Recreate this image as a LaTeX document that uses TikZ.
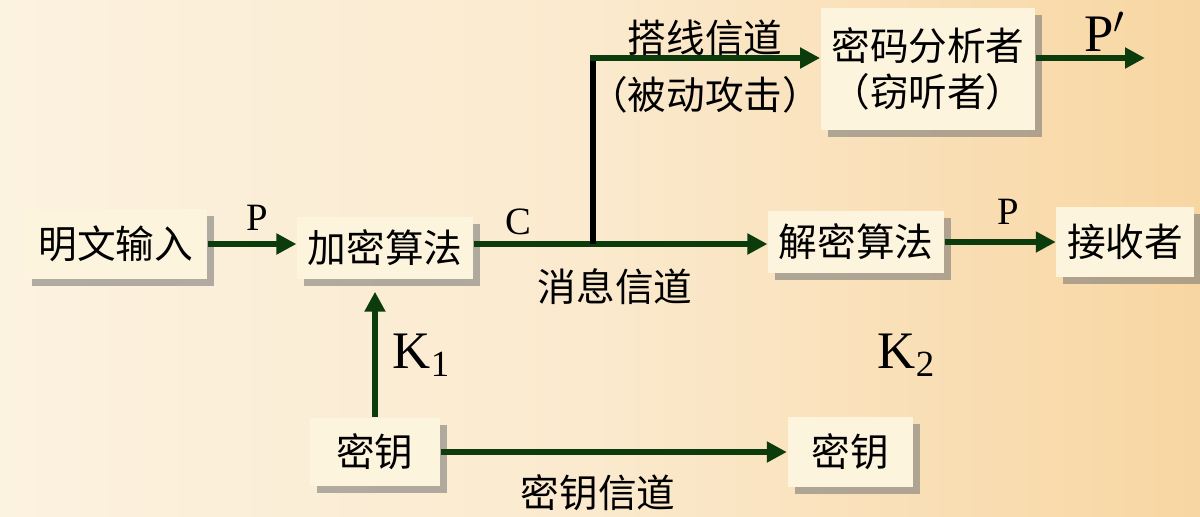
\documentclass[tikz,border=0pt]{standalone}
\usepackage{fontspec}
\setmainfont{Liberation Serif}
\newfontfamily\cjk{Noto Sans CJK SC}
\usetikzlibrary{positioning, arrows.meta, shadows, calc}

\definecolor{bgleft}{RGB}{252,242,224}
\definecolor{bgright}{RGB}{248,214,162}
\definecolor{boxfill}{RGB}{253,244,222}
\definecolor{arrgreen}{RGB}{12,60,12}

\begin{document}
\begin{tikzpicture}[
  every node/.style={font=\cjk\fontsize{11}{13}\selectfont},
  >=Triangle,
  pbox/.style={fill=boxfill, align=center,
    inner xsep=3pt, inner ysep=2pt,
    drop shadow={shadow xshift=0.07cm, shadow yshift=-0.07cm,
      fill=black!55, opacity=0.55}},
  lbl/.style={font=\rmfamily\fontsize{11}{13}\selectfont},
  klbl/.style={font=\rmfamily\fontsize{15}{17}\selectfont},
  arr/.style ={-{Triangle[length=0.2cm, width=0.2cm]}, line width=1.8pt, draw=arrgreen, fill=arrgreen},
  ln/.style  ={line width=1.8pt, draw=arrgreen},
]

%% background
\shade[left color=bgleft, right color=bgright, middle color=bgleft!70!bgright]
  (0,0) rectangle (12,-5.16);
\useasboundingbox (0,0) rectangle (12,-5.16);

%% ROW 1 — message channel
\node[pbox, minimum width=1.82cm, minimum height=0.70cm] (plain) at (1.16,-2.44) {明文输入};
\node[pbox, minimum width=1.54cm, minimum height=0.62cm] (enc)   at (3.85,-2.48) {加密算法};
\node[pbox, minimum width=1.72cm, minimum height=0.62cm] (dec)   at (8.56,-2.42) {解密算法};
\node[pbox, minimum width=1.30cm, minimum height=0.70cm] (rcv)   at (11.25,-2.42) {接收者};

\draw[arr] (plain.east) -- (plain.east -| enc.west);
\node[lbl] (pIn) at (2.57,-2.18) {P};
\coordinate (tap) at (5.93,0 |- plain.east);
\draw[ln] (enc.east |- plain.east) -- (tap);
\draw[arr] (tap) -- (tap -| dec.west);
\node[lbl] (cLbl) at (5.18,-2.22) {C};
\node (msgCh) at (6.15,-2.87) {消息信道};
\draw[arr] (dec.east) -- (rcv.west);
\node[lbl] (pOut) at (10.08,-2.12) {P};

%% ROW 0 — wiretap branch
\node[pbox, minimum width=2.05cm, minimum height=1.22cm] (crypt) at (9.28,-0.69)
  {密码分析者\\（窃听者）};
\coordinate (tapTop) at (5.93,-0.58);
\draw[line width=1.6pt, black] (tap) -- (tapTop);
\draw[arr] ($(tapTop)+(-0.03,0)$) -- (tapTop -| crypt.west);
\node (wire) at (7.05,-0.38) {搭线信道};
\node (passive) at (7.05,-0.95) {（被动攻击）};
\coordinate (eaveOut) at (11.45,-0.58);
\draw[arr] (tapTop -| crypt.east) -- (eaveOut);
\node[klbl] (pPrime) at (11.05,-0.32) {P$'$};

%% ROW 2 — key channel
\node[pbox, minimum width=1.30cm, minimum height=0.68cm] (key1) at (3.75,-4.52) {密钥};
\node[pbox, minimum width=1.25cm, minimum height=0.70cm] (key2) at (8.50,-4.52) {密钥};
\coordinate (k1Tip) at ($(key1.north |- enc.south)+(0,-0.12)$);
\draw[arr] (key1.north) -- (k1Tip);
\node[klbl] (k1) at (4.22,-3.55) {K\textsubscript{1}};
\node[klbl] (k2) at (9.07,-3.55) {K\textsubscript{2}};
\draw[arr] (key1.east) -- (key2.west);
\node (keyCh) at (5.98,-4.93) {密钥信道};

\end{tikzpicture}
\end{document}
